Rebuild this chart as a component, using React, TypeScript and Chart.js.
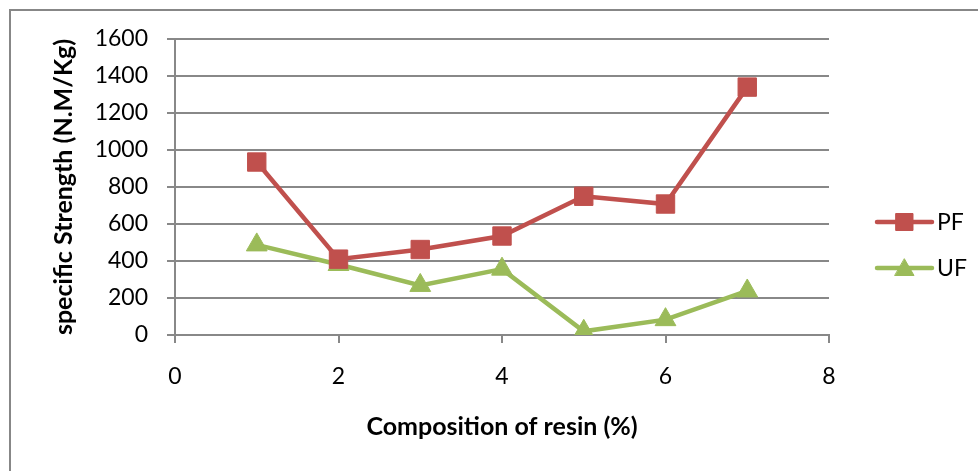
import React, { useEffect, useRef } from "react";
import { Chart, registerables } from "chart.js";
import { drawPoint } from "chart.js/helpers";

Chart.register(...registerables);

const xValues = [1, 2, 3, 4, 5, 6, 7];
const pfValues = [935, 410, 462, 535, 750, 708, 1340];
const ufValues = [487, 381, 268, 356, 20, 83, 238];
const seriesLabels = ["PF", "UF"];
const xTitle = "Composition of resin (%)";
const yTitle = "specific Strength (N.M/Kg)";

const RED = "#C0504D";
const GREEN = "#9BBB59";
const GRID = "#888888";
const FONT = "Lato";

const legendPlugin = {
  id: "excelLegend",
  afterDraw(chart: any) {
    const { ctx, chartArea } = chart;
    const x0 = chartArea.right + 48;
    const x1 = chartArea.right + 103;
    const mid = (x0 + x1) / 2;
    let y = chartArea.bottom - 113;
    chart.data.datasets.forEach((ds: any) => {
      ctx.save();
      ctx.strokeStyle = ds.borderColor;
      ctx.lineWidth = ds.borderWidth;
      ctx.lineCap = "round";
      ctx.beginPath();
      ctx.moveTo(x0, y);
      ctx.lineTo(x1, y);
      ctx.stroke();
      ctx.fillStyle = ds.pointBackgroundColor;
      ctx.strokeStyle = ds.pointBorderColor;
      ctx.lineWidth = 1;
      drawPoint(ctx, { pointStyle: ds.pointStyle, radius: ds.pointRadius - 1, borderWidth: 1, rotation: 0 } as any, mid, ds.pointStyle === "triangle" ? y + 2 : y);
      ctx.fillStyle = "#000";
      ctx.font = `23px ${FONT}`;
      ctx.textBaseline = "middle";
      ctx.textAlign = "left";
      ctx.fillText(ds.label, x1 + 5, y + 1);
      ctx.restore();
      y += 46;
    });
  },
};

export default function App() {
  const ref = useRef<HTMLCanvasElement>(null);
  useEffect(() => {
    const chart = new Chart(ref.current as HTMLCanvasElement, {
      type: "scatter",
      data: {
        datasets: [
          {
            label: seriesLabels[0],
            data: xValues.map((x, i) => ({ x, y: pfValues[i] })),
            showLine: true,
            borderColor: RED,
            borderWidth: 4.5,
            pointStyle: "rect",
            pointRadius: 13,
            pointBackgroundColor: RED,
            pointBorderColor: RED,
            pointBorderWidth: 1,
          },
          {
            label: seriesLabels[1],
            data: xValues.map((x, i) => ({ x, y: ufValues[i] })),
            showLine: true,
            borderColor: GREEN,
            borderWidth: 4.5,
            pointStyle: "triangle",
            pointRadius: 12,
            pointBackgroundColor: GREEN,
            pointBorderColor: GREEN,
            pointBorderWidth: 1,
          },
        ],
      },
      options: {
        animation: false,
        responsive: false,
        layout: { padding: { left: 0, top: 39, right: 149, bottom: 0 } },
        plugins: { legend: { display: false }, tooltip: { enabled: false } },
        scales: {
          x: {
            type: "linear",
            min: 0,
            max: 8,
            afterFit: (s: any) => {
              s.height = 136;
            },
            ticks: {
              stepSize: 2,
              color: "#000",
              font: { family: FONT, size: 23 },
              padding: 20,
              callback: (v: any) => String(v),
            },
            grid: { drawOnChartArea: false, drawTicks: true, tickLength: 8, color: GRID, lineWidth: 2 },
            border: { display: true, color: GRID, width: 2 },
            title: {
              display: true,
              text: xTitle,
              color: "#000",
              font: { family: FONT, size: 25, weight: "bold" },
              padding: { top: 0, bottom: 29 },
            },
          },
          y: {
            min: 0,
            max: 1600,
            afterFit: (s: any) => {
              s.width = 175;
            },
            ticks: {
              stepSize: 200,
              color: "#000",
              font: { family: FONT, size: 23 },
              padding: 19,
              callback: (v: any) => String(v),
            },
            grid: { color: GRID, lineWidth: 2, tickLength: 8 },
            border: { display: true, color: GRID, width: 2 },
            title: {
              display: true,
              text: yTitle,
              color: "#000",
              font: { family: FONT, size: 25, weight: "bold" },
              padding: { top: 49, bottom: 0 },
            },
          },
        },
      },
      plugins: [legendPlugin],
    } as any);
    return () => chart.destroy();
  }, []);

  return (
    <div style={{ position: "fixed", left: 0, top: 0, width: 978, height: 471, background: "#fff", overflow: "hidden" }}>
      <div
        style={{
          position: "absolute",
          left: 9,
          top: 9,
          width: 1000,
          height: 520,
          border: "2px solid #878787",
          boxSizing: "border-box",
        }}
      />
      <canvas ref={ref} width={978} height={471} style={{ position: "absolute", left: 0, top: 0, display: "block" }} />
    </div>
  );
}
